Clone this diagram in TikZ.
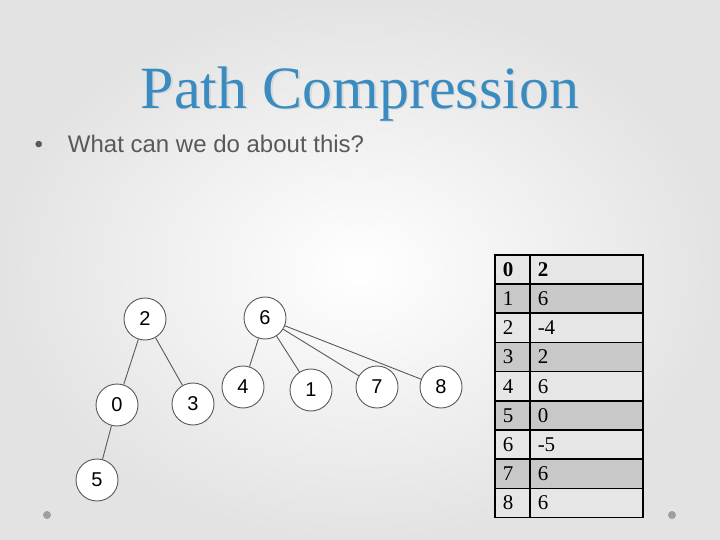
\documentclass[tikz,border=0pt]{standalone}
\usepackage{fontspec}
\setmainfont{Liberation Serif}
\newfontfamily\arialfont{Liberation Sans}
\usepackage{xcolor}
\usetikzlibrary{positioning}
\definecolor{titleblue}{HTML}{3A8CC0}
\definecolor{bodygray}{HTML}{595959}
\definecolor{rowlight}{HTML}{E6E6E6}
\definecolor{rowdark}{HTML}{C8C8C8}

\begin{document}
\begin{tikzpicture}[x=1pt, y=-1pt, vertex/.style={circle, draw=gray!70!black, line width=0.9pt, fill=white, minimum size=42pt, inner sep=0pt, font=\arialfont\fontsize{20}{20}\selectfont}, link/.style={draw=gray!70!black, line width=0.9pt}, cell/.style={draw=black, line width=1.5pt, minimum height=29.2pt, inner sep=0pt, align=left, anchor=north west, font=\fontsize{21}{21}\selectfont}]
\useasboundingbox (0,0) rectangle (720,540);
\shade[inner color=white, outer color=gray!22] (0,0) rectangle (720,540);
% title and bullet
\node[text=gray!30, font=\fontsize{60}{60}\selectfont] at (361.5,95.5) {Path Compression};
\node[text=titleblue, font=\fontsize{60}{60}\selectfont] (title) at (360,94) {Path Compression};
\node[text=bodygray, anchor=base west, font=\arialfont\fontsize{24}{24}\selectfont] (bullet) at (31,153) {\textbullet\hspace{25pt}What can we do about this?};
% trees
\node[vertex] (n2) at (145,319) {2};
\node[vertex] (n6) at (265,318) {6};
\node[vertex] (n0) at (117,405) {0};
\node[vertex] (n3) at (193,404) {3};
\node[vertex] (n4) at (243,387) {4};
\node[vertex] (n1) at (311,390) {1};
\node[vertex] (n7) at (377,387) {7};
\node[vertex] (n8) at (441,387) {8};
\node[vertex] (n5) at (97,480) {5};
\draw[link] (n2) -- (n0);
\draw[link] (n2) -- (n3);
\draw[link] (n0) -- (n5);
\draw[link] (n6) -- (n4);
\draw[link] (n6) -- (n1);
\draw[link] (n6) -- (n7);
\draw[link] (n6) -- (n8);
% parent array
\foreach \k/\v [count=\i from 0] in {0/2,1/6,2/-4,3/2,4/6,5/0,6/-5,7/6,8/6} {
  \pgfmathsetmacro{\rowfill}{ifthenelse(mod(\i,2)==0,"rowlight","rowdark")}
  \node[cell, fill=\rowfill, minimum width=35pt, text width=29pt] (k\i) at (494,254+29.2*\i) {\hspace{5pt}\ifnum\i=0 \textbf{\k}\else\k\fi};
  \node[cell, fill=\rowfill, minimum width=113pt, text width=107pt] (v\i) at (529,254+29.2*\i) {\hspace{5pt}\ifnum\i=0 \textbf{\v}\else\v\fi};
}
% slide dots
\fill[gray!75] (47,515) circle (4);
\fill[gray!75] (672,515) circle (4);
\end{tikzpicture}
\end{document}
